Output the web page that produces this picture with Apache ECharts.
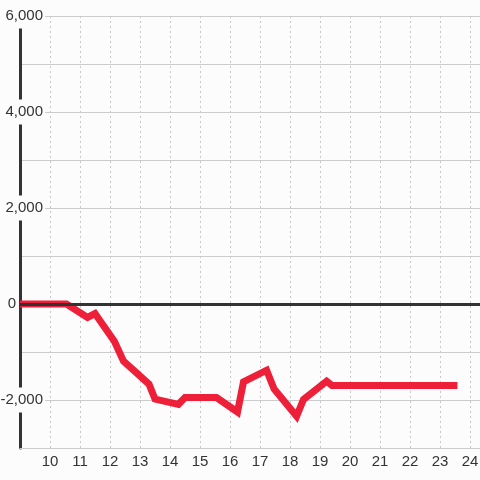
<!DOCTYPE html>
<html>
<head>
<meta charset="utf-8">
<script src="https://cdn.jsdelivr.net/npm/echarts@6/dist/echarts.min.js"></script>
<style>
  html, body { margin: 0; padding: 0; background: #fcfcfc; }
  #chart { width: 480px; height: 480px; }
</style>
</head>
<body>
<div id="chart"></div>
<script>
// hours of day (x) and values (y)
const hours = [9, 10.55, 11.25, 11.5, 12.15, 12.45, 13.3, 13.5, 14.28, 14.5, 15.55, 16.25, 16.45, 17.22, 17.47, 18.22, 18.45, 19.22, 19.4, 23.58]
const values = [0, 0, -280, -200, -780, -1190, -1670, -1980, -2090, -1950, -1950, -2250, -1620, -1380, -1770, -2340, -1990, -1610, -1700, -1700]
const xTickLabels = [10, 11, 12, 13, 14, 15, 16, 17, 18, 19, 20, 21, 22, 23, 24]
const yTickLabels = [-2000, 0, 2000, 4000, 6000]

const bg = '#fcfcfc'
const font = "'Liberation Sans', Arial, sans-serif"

const myChart = echarts.init(document.getElementById('chart'))

const option = {
  backgroundColor: bg,
  animation: false,
  grid: {
    left: 20,
    right: 0,
    top: 16,
    bottom: 32,
    containLabel: false,
    outerBoundsMode: 'none',
  },
  xAxis: {
    type: 'value',
    min: 9,
    max: 24.333,
    interval: 1,
    axisLine: { show: true, onZero: false, lineStyle: { color: '#ccc', width: 1 } },
    axisTick: { show: false },
    axisLabel: {
      color: '#333',
      fontSize: 15,
      fontFamily: font,
      margin: 6,
      showMaxLabel: false,
      formatter: (v) => (xTickLabels.includes(v) ? String(v) : ''),
    },
    splitLine: {
      show: true,
      lineStyle: { color: '#c8c8c8', width: 1, type: [2, 3] },
    },
  },
  yAxis: {
    type: 'value',
    min: -3000,
    max: 6000,
    interval: 1000,
    axisLine: { show: true, onZero: false, lineStyle: { color: '#333', width: 3 } },
    axisTick: { show: false },
    axisLabel: {
      margin: -25,
      align: 'right',
      color: '#333',
      fontSize: 15,
      fontFamily: font,
      formatter: (v) => {
        if (!yTickLabels.includes(v)) return ''
        if (v === 0) return '{z|0}'
        return '{a|' + v.toLocaleString('en-US') + '}'
      },
      rich: {
        a: {
          color: '#333',
          fontSize: 15,
          fontFamily: font,
          backgroundColor: bg,
          padding: [5, 2, 5, 3],
        },
        z: {
          color: '#333',
          fontSize: 15,
          fontFamily: font,
          padding: [0, 29, 0, 0],
        },
      },
    },
    splitLine: {
      show: true,
      lineStyle: { color: '#ccc', width: 1 },
    },
  },
  series: [
    {
      // zero baseline
      type: 'line',
      z: 1,
      data: [],
      markLine: {
        silent: true,
        symbol: ['none', 'none'],
        label: { show: false },
        lineStyle: { color: '#333', width: 3, type: 'solid' },
        data: [{ yAxis: 0 }],
      },
    },
    {
      type: 'line',
      z: 3,
      data: hours.map((h, i) => [h, values[i]]),
      showSymbol: false,
      symbol: 'none',
      lineStyle: {
        color: '#ee1f38',
        width: 7,
        cap: 'butt',
        join: 'miter',
      },
    },
  ],
}

myChart.setOption(option)
</script>
</body>
</html>
